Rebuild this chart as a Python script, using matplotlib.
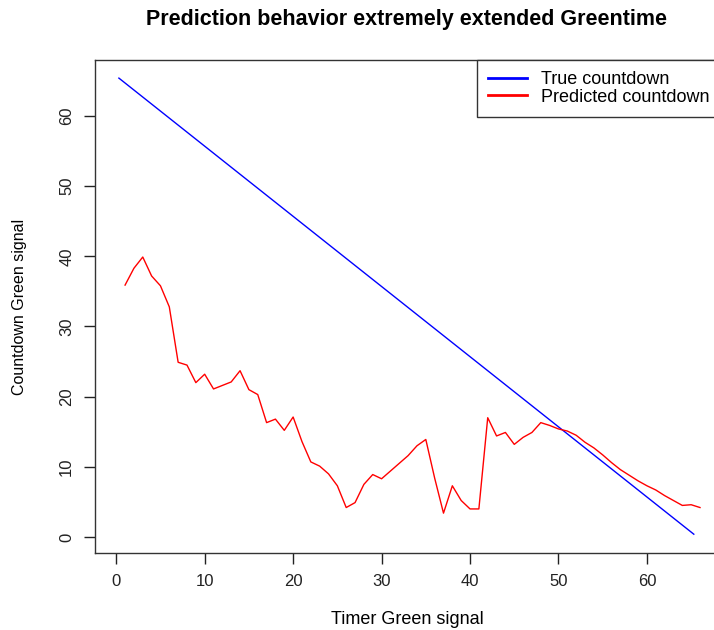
#!/usr/bin/env python3
"""Prediction vs true countdown for an extremely extended green phase."""
import matplotlib

matplotlib.use("Agg")
import matplotlib.pyplot as plt

# true countdown (straight line, endpoints)
true_x = [0.3, 65.3]
true_y = [65.4, 0.4]

# predicted countdown, one value per timer second
pred_x = list(range(1, 67))
pred_y = [
    35.9, 38.3, 39.9, 37.2, 35.8, 32.8, 24.9, 24.5, 22.0, 23.2,
    21.1, 21.6, 22.1, 23.7, 21.0, 20.3, 16.3, 16.8, 15.2, 17.1,
    13.6, 10.7, 10.1, 9.0, 7.3, 4.2, 4.9, 7.5, 8.9, 8.3,
    9.4, 10.5, 11.6, 13.0, 13.9, 8.4, 3.4, 7.3, 5.2, 4.0,
    4.0, 17.0, 14.4, 14.9, 13.2, 14.2, 14.9, 16.3, 15.9, 15.4,
    15.1, 14.5, 13.5, 12.7, 11.7, 10.6, 9.6, 8.8, 8.0, 7.3,
    6.7, 5.9, 5.2, 4.5, 4.6, 4.2,
]

xticks = [0, 10, 20, 30, 40, 50, 60]
yticks = [0, 10, 20, 30, 40, 50, 60]

plt.rcParams["font.family"] = ["Liberation Sans", "DejaVu Sans"]

W, H = 714, 630
fig = plt.figure(figsize=(W / 100, H / 100), dpi=100)
# plot box runs off the right edge, as in the cropped original
ax = fig.add_axes([95 / W, 1 - 553 / H, 628 / W, 493 / H])

ax.plot(true_x, true_y, color="#0000ff", lw=1.0, label="True countdown")
ax.plot(pred_x, pred_y, color="#ff0000", lw=1.0, label="Predicted countdown")

ax.set_xlim(-2.4, 68.6)
ax.set_ylim(-2.28, 67.98)
ax.set_xticks(xticks)
ax.set_yticks(yticks)
ax.tick_params(direction="out", length=8, width=1, labelsize=12, colors="#222222", pad=7)
for lab in ax.get_yticklabels():
    lab.set_rotation(90)
    lab.set_va("center")
for sp in ax.spines.values():
    sp.set_color("#333333")
    sp.set_linewidth(1)
ax.spines["right"].set_visible(False)

fig.text(406 / W, 1 - 19 / H, "Prediction behavior extremely extended Greentime",
         ha="center", va="center", fontsize=15.5, fontweight="bold")
fig.text(407 / W, 1 - 619 / H, "Timer Green signal", ha="center", va="center", fontsize=13)
fig.text(20 / W, 1 - 307 / H, "Countdown Green signal", ha="center", va="center",
         rotation=90, fontsize=11.5)

leg = fig.legend(loc="upper left", bbox_to_anchor=(477 / W, 1 - 60 / H), fontsize=13,
                 frameon=True, fancybox=False, edgecolor="#333333", framealpha=1,
                 handlelength=2.15, handletextpad=0.78, borderpad=0.6, labelspacing=0.05,
                 borderaxespad=0)
leg.get_frame().set_linewidth(1)
for line in leg.get_lines():
    line.set_linewidth(2)

fig.savefig("out.png", dpi=100)
